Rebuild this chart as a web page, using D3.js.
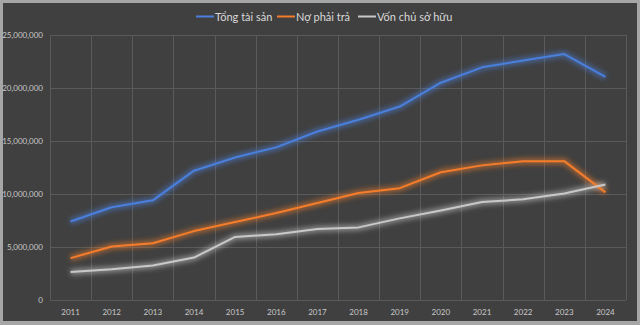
<!DOCTYPE html>
<html>
<head>
<meta charset="utf-8">
<script src="https://cdn.jsdelivr.net/npm/d3@7"></script>
<style>
  body { margin: 0; background: #a6a6a6; }
  svg { display: block; }
</style>
</head>
<body>
<div id="chart"></div>
<script>
// chart data
const years = ["2011", "2012", "2013", "2014", "2015", "2016", "2017",
               "2018", "2019", "2020", "2021", "2022", "2023", "2024"];
const seriesNames = ["Tổng tài sản", "Nợ phải trả", "Vốn chủ sở hữu"];
const tongTaiSan = [7400000, 8750000, 9400000, 12200000, 13450000, 14400000, 15900000,
                    17000000, 18250000, 20500000, 21950000, 22600000, 23200000, 21050000];
const noPhaiTra = [3950000, 5050000, 5350000, 6500000, 7350000, 8200000, 9150000,
                   10100000, 10550000, 12050000, 12700000, 13100000, 13100000, 10150000];
const vonChuSoHuu = [2650000, 2900000, 3250000, 4000000, 5950000, 6200000, 6700000,
                     6850000, 7700000, 8450000, 9250000, 9500000, 10050000, 10900000];
const yTicks = [0, 5000000, 10000000, 15000000, 20000000, 25000000];
const colors = ["#4a7fdc", "#f47d2c", "#c8c8c8"];

const width = 640, height = 325;
const margin = {top: 35, right: 14, bottom: 25, left: 50};

const svg = d3.select("#chart").append("svg")
    .attr("width", width)
    .attr("height", height);

// outer frame + dark chart area
svg.append("rect")
    .attr("x", 3).attr("y", 3)
    .attr("width", 634).attr("height", 318)
    .attr("fill", "#404040");

const glow = svg.append("defs").append("filter")
    .attr("id", "glow")
    .attr("x", "-10%").attr("y", "-30%")
    .attr("width", "120%").attr("height", "160%");
glow.append("feGaussianBlur").attr("in", "SourceGraphic").attr("stdDeviation", 2.5);

const x = d3.scaleBand()
    .domain(years)
    .range([margin.left, width - margin.right]);

const y = d3.scaleLinear()
    .domain([0, 25000000])
    .range([height - margin.bottom, margin.top]);

const fmt = d3.format(",");

// horizontal gridlines
svg.append("g")
    .selectAll("line")
    .data(yTicks)
    .enter().append("line")
        .attr("x1", margin.left)
        .attr("x2", width - margin.right)
        .attr("y1", d => y(d) + 0.5)
        .attr("y2", d => y(d) + 0.5)
        .attr("stroke", "#5a5a5a")
        .attr("stroke-width", 1);

// vertical gridlines at category boundaries
const bounds = years.map(d => x(d)).concat([x.range()[1]]);
svg.append("g")
    .selectAll("line")
    .data(bounds)
    .enter().append("line")
        .attr("x1", d => Math.round(d) + 0.5)
        .attr("x2", d => Math.round(d) + 0.5)
        .attr("y1", y(25000000))
        .attr("y2", y(0))
        .attr("stroke", "#5a5a5a")
        .attr("stroke-width", 1);

// y labels
svg.append("g")
    .selectAll("text")
    .data(yTicks)
    .enter().append("text")
        .attr("x", 43)
        .attr("y", d => y(d) + 3)
        .attr("text-anchor", "end")
        .attr("font-family", "Lato, 'Liberation Sans', sans-serif")
        .attr("font-size", 8)
        .attr("fill", "#c8c8c8")
        .text(d => fmt(d));

// x labels
svg.append("g")
    .selectAll("text")
    .data(years)
    .enter().append("text")
        .attr("x", d => x(d) + x.bandwidth() / 2)
        .attr("y", 315)
        .attr("text-anchor", "middle")
        .attr("font-family", "Lato, 'Liberation Sans', sans-serif")
        .attr("font-size", 8)
        .attr("fill", "#c8c8c8")
        .text(d => d);

const line = d3.line()
    .x((d, i) => x(years[i]) + x.bandwidth() / 2)
    .y(d => y(d));

const allSeries = [tongTaiSan, noPhaiTra, vonChuSoHuu];

// glow underneath
svg.append("g")
    .selectAll("path")
    .data(allSeries)
    .enter().append("path")
        .attr("d", d => line(d))
        .attr("fill", "none")
        .attr("stroke", (d, i) => colors[i])
        .attr("stroke-width", 6)
        .attr("stroke-opacity", 0.55)
        .attr("filter", "url(#glow)");

svg.append("g")
    .selectAll("path")
    .data(allSeries)
    .enter().append("path")
        .attr("d", d => line(d))
        .attr("fill", "none")
        .attr("stroke", (d, i) => colors[i])
        .attr("stroke-width", 2)
        .attr("stroke-linejoin", "round");

// legend
const legendX = [196, 277, 358];
const legend = svg.append("g")
    .selectAll("g")
    .data(seriesNames)
    .enter().append("g")
        .attr("transform", (d, i) => `translate(${legendX[i]},16.5)`);

legend.append("line")
    .attr("x1", 0).attr("x2", 18)
    .attr("stroke", (d, i) => colors[i])
    .attr("stroke-width", 2);

legend.append("text")
    .attr("x", 19)
    .attr("y", 4)
    .attr("font-family", "Lato, 'Liberation Sans', sans-serif")
    .attr("font-size", 11)
    .attr("fill", "#d9d9d9")
    .text(d => d);
</script>
</body>
</html>
